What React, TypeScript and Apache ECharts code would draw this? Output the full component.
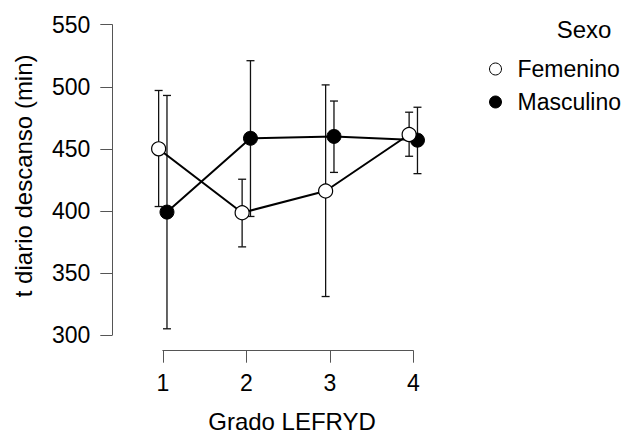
import React, { useEffect, useRef } from "react";
import * as echarts from "echarts";

const categories = [1, 2, 3, 4];
const femMean = [450, 398.5, 416, 461.5];
const femLower = [403.5, 371, 331, 444];
const femUpper = [497, 425.5, 501.5, 479.5];
const mascMean = [399, 458.5, 460, 457];
const mascLower = [305, 395.5, 431, 430];
const mascUpper = [493, 521, 488.5, 483.5];
const seriesNames = ["Femenino", "Masculino"];
const legendTitle = "Sexo";
const xTitle = "Grado LEFRYD";
const yTitle = "t diario descanso (min)";

const font = "'Liberation Sans', Arial, sans-serif";
const dodge = 0.05;
const axisColor = "#555";

function errorSeries(name: string, offset: number, lower: number[], upper: number[]) {
  return {
    type: "custom",
    name,
    silent: true,
    z: 1,
    encode: { x: 0, y: [1, 2] },
    data: categories.map((c, i) => [c + offset, lower[i], upper[i]]),
    renderItem: (_params: any, api: any) => {
      const x = api.value(0);
      const top = api.coord([x, api.value(2)]);
      const bot = api.coord([x, api.value(1)]);
      const cap = 4;
      const style = { stroke: "#111", lineWidth: 1.3 };
      return {
        type: "group",
        children: [
          { type: "line", shape: { x1: top[0], y1: top[1], x2: bot[0], y2: bot[1] }, style },
          { type: "line", shape: { x1: top[0] - cap, y1: top[1], x2: top[0] + cap, y2: top[1] }, style },
          { type: "line", shape: { x1: bot[0] - cap, y1: bot[1], x2: bot[0] + cap, y2: bot[1] }, style },
        ],
      };
    },
  };
}

export default function App() {
  const ref = useRef<HTMLDivElement>(null);
  useEffect(() => {
    if (!ref.current) return;
    const chart = echarts.init(ref.current, undefined, { renderer: "svg" });
    chart.setOption({
      animation: false,
      textStyle: { fontFamily: font },
      grid: {
        left: 162.8,
        top: 24.7,
        width: 250.5,
        height: 310.3,
        containLabel: false,
        outerBoundsMode: "none",
      },
      xAxis: {
        type: "value",
        min: 1,
        max: 4,
        interval: 1,
        offset: 15.7,
        axisLine: { show: true, lineStyle: { color: axisColor, width: 1 } },
        axisTick: { show: true, length: 12, lineStyle: { color: axisColor, width: 1 } },
        axisLabel: { fontSize: 23, color: "#000", margin: 21, fontFamily: font },
        splitLine: { show: false },
        name: xTitle,
        nameLocation: "middle",
        nameGap: 62,
        nameTextStyle: { fontSize: 24, lineHeight: 18, color: "#000", fontFamily: font, padding: [0, 0, 0, 8] },
      },
      yAxis: {
        type: "value",
        min: 300,
        max: 550,
        interval: 50,
        offset: 50.5,
        axisLine: { show: true, lineStyle: { color: axisColor, width: 1 } },
        axisTick: { show: true, length: 12, lineStyle: { color: axisColor, width: 1 } },
        axisLabel: { fontSize: 23, color: "#000", margin: 22, fontFamily: font },
        splitLine: { show: false },
        name: yTitle,
        nameLocation: "middle",
        nameGap: 77,
        nameRotate: 90,
        nameTextStyle: { fontSize: 24, color: "#000", fontFamily: font, padding: [0, 0, 0, 8] },
      },
      legend: {
        orient: "vertical",
        left: 484,
        top: 52,
        itemWidth: 12,
        itemHeight: 12,
        itemGap: 9,
        selectedMode: false,
        textStyle: { fontSize: 23, color: "#000", fontFamily: font, lineHeight: 24, padding: [0, 0, 0, 11] },
        data: [
          { name: seriesNames[0], icon: "circle", itemStyle: { color: "#fff", borderColor: "#000", borderWidth: 1 } },
          { name: seriesNames[1], icon: "circle", itemStyle: { color: "#000", borderColor: "#000", borderWidth: 1 } },
        ],
      },
      graphic: [
        {
          type: "text",
          left: 556.7,
          top: 17,
          style: { text: legendTitle, fontSize: 24, fill: "#000", fontFamily: font, textAlign: "center" },
        },
      ],
      series: [
        errorSeries("Masculino IC", dodge, mascLower, mascUpper),
        errorSeries("Femenino IC", -dodge, femLower, femUpper),
        {
          type: "line",
          name: seriesNames[1],
          data: categories.map((c, i) => [c + dodge, mascMean[i]]),
          symbol: "circle",
          symbolSize: 14,
          clip: false,
          z: 3,
          silent: true,
          itemStyle: { color: "#000", borderColor: "#000", borderWidth: 1 },
          lineStyle: { color: "#000", width: 2 },
          emphasis: { disabled: true },
        },
        {
          type: "line",
          name: seriesNames[0],
          data: categories.map((c, i) => [c - dodge, femMean[i]]),
          symbol: "circle",
          symbolSize: 14,
          clip: false,
          z: 4,
          silent: true,
          itemStyle: { color: "#fff", borderColor: "#000", borderWidth: 1.2 },
          lineStyle: { color: "#000", width: 2 },
          emphasis: { disabled: true },
        },
      ],
    });
    return () => chart.dispose();
  }, []);
  return (
    <div
      ref={ref}
      style={{ position: "absolute", left: 0, top: 0, width: 627, height: 436 }}
    />
  );
}
